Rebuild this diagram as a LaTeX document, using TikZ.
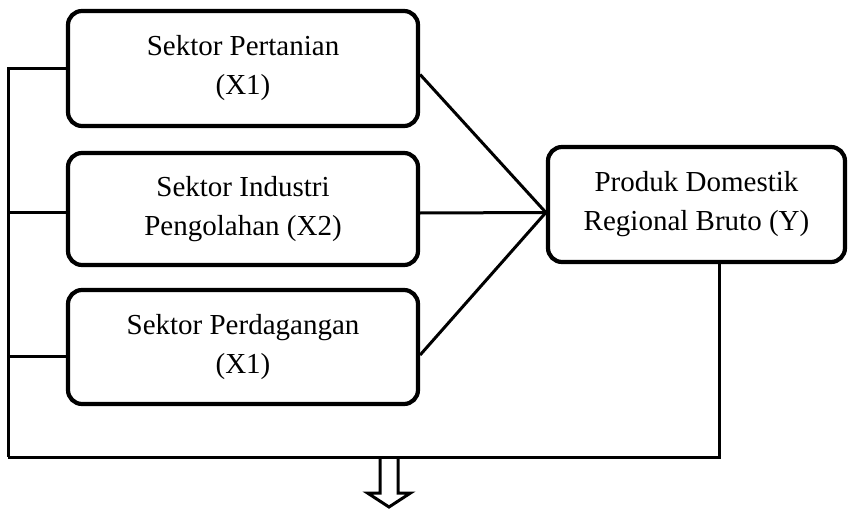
\documentclass[tikz,border=0pt]{standalone}
\usepackage{fontspec}
\setmainfont{Liberation Serif}
\usepackage{tikz}

\begin{document}
\begin{tikzpicture}[x=1pt,y=1pt]
			\tikzstyle{every node}+=[inner sep=0pt]
			\tikzstyle{sektor}=[draw=black, line width=4.2pt, rounded corners=14pt, align=center, font=\fontsize{29}{39}\selectfont]
			\tikzstyle{garis}=[draw=black, line width=3pt]
			\useasboundingbox (0,0) rectangle (849,-511);
			\node [sektor, minimum width=350, minimum height=115] (x1) at (243,-68.5) {Sektor Pertanian\\(X1)};
			\node [sektor, minimum width=350, minimum height=112] (x2) at (243,-209) {Sektor Industri\\Pengolahan (X2)};
			\node [sektor, minimum width=350, minimum height=114] (x3) at (243,-347) {Sektor Perdagangan\\(X1)};
			\node [sektor, minimum width=297, minimum height=115] (y) at (696.5,-204.5) {Produk Domestik\\Regional Bruto (Y)};
			\coordinate (temu) at ([yshift=-8pt]y.west);
			\draw [garis] ([yshift=-6pt]x1.east) -- (temu);
			\draw [garis] ([yshift=-4pt]x2.east) -- (temu);
			\draw [garis] ([yshift=-8pt]x3.east) -- (temu);
			% umpan balik
			\coordinate (kiri) at (8,-457);
			\draw [garis] (x1.west) -| (kiri);
			\draw [garis] ([yshift=-3pt]x2.west) -- ([yshift=-3pt]x2.west -| kiri);
			\draw [garis] ([yshift=-9pt]x3.west) -- ([yshift=-9pt]x3.west -| kiri);
			\draw [garis] (kiri) -| ([xshift=23pt]y.south);
			% panah
			\coordinate (panah) at (389,-459);
			\draw [black, line width=3pt, line join=miter] ([xshift=-9pt]panah) -- ++(0,-34) -- ++(-12.5,0) -- ([yshift=-48pt]panah) -- ([xshift=21.5pt,yshift=-34pt]panah) -- ([xshift=9pt,yshift=-34pt]panah) -- ([xshift=9pt]panah);
		\end{tikzpicture}
\end{document}
